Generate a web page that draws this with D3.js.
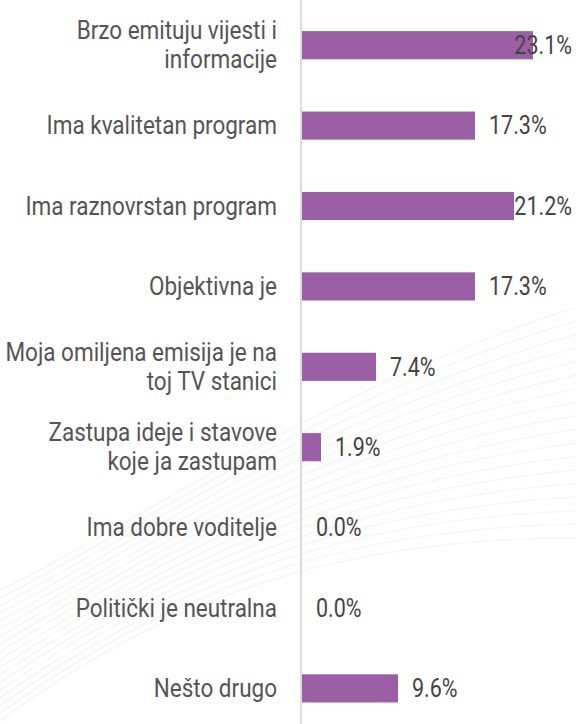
<!DOCTYPE html>
<html>
<head>
<meta charset="utf-8">
<script src="https://cdn.jsdelivr.net/npm/d3@7"></script>
<style>
  body { margin: 0; background: #fff; }
  text { font-family: "Roboto", "Liberation Sans", sans-serif; }
</style>
</head>
<body>
<div id="chart"></div>
<script>
var width = 576, height = 724;

// categories (line breaks as in the original)
var categories = [
  ["Brzo emituju vijesti i", "informacije"],
  ["Ima kvalitetan program"],
  ["Ima raznovrstan program"],
  ["Objektivna je"],
  ["Moja omiljena emisija je na", "toj TV stanici"],
  ["Zastupa ideje i stavove", "koje ja zastupam"],
  ["Ima dobre voditelje"],
  ["Politički je neutralna"],
  ["Nešto drugo"]
];
var values = [23.1, 17.3, 21.2, 17.3, 7.4, 1.9, 0.0, 0.0, 9.6];

var data = categories.map(function(c, i) {
  return { key: c.join(" "), lines: c, value: values[i] };
});

var svg = d3.select("#chart")
  .append("svg")
    .attr("width", width)
    .attr("height", height);

// very faint background swooshes
var bg = svg.append("g").attr("fill", "none");
for (var k = 0; k < 18; k++) {
  bg.append("path")
    .attr("d", "M-20," + (600 + k * 8) +
               " C150," + (520 + k * 5) + " 330," + (380 + k * 9) + " 600," + (300 + k * 14))
    .attr("stroke", "#f6f6f6")
    .attr("stroke-width", 1.5);
}

var x = d3.scaleLinear()
  .domain([0, 27])
  .range([302, 572]);

var y = d3.scaleBand()
  .domain(data.map(function(d) { return d.key; }))
  .range([5, 728.6])
  .paddingInner(0.65)
  .paddingOuter(0.325);

// axis line
svg.append("line")
  .attr("x1", 301).attr("x2", 301)
  .attr("y1", 0).attr("y2", height)
  .attr("stroke", "#dcdcdc")
  .attr("stroke-width", 2);

// bars
svg.selectAll("rect.bar")
  .data(data)
  .enter()
  .append("rect")
    .attr("class", "bar")
    .attr("x", x(0))
    .attr("y", function(d) { return y(d.key); })
    .attr("width", function(d) { return x(d.value) - x(0); })
    .attr("height", y.bandwidth())
    .attr("fill", "#9b5fa5");

// category labels (narrowed to mimic the condensed face)
var lineH = 29, catScale = 0.9, valScale = 0.86;
var labels = svg.selectAll("text.cat")
  .data(data)
  .enter()
  .append("text")
    .attr("class", "cat")
    .attr("text-anchor", "end")
    .attr("font-size", 25)
    .attr("fill", "#555")
    .attr("transform", function(d) {
      var cy = y(d.key) + y.bandwidth() / 2;
      return "translate(277," + (cy - (d.lines.length - 1) * lineH / 2) + ") scale(" + catScale + ",1)";
    });

labels.selectAll("tspan")
  .data(function(d) { return d.lines; })
  .enter()
  .append("tspan")
    .attr("x", 0)
    .attr("dy", function(d, i) { return i === 0 ? "0.35em" : lineH; })
    .text(function(d) { return d; });

// value labels, kept inside the right edge
svg.selectAll("text.val")
  .data(data)
  .enter()
  .append("text")
    .attr("class", "val")
    .attr("font-size", 25)
    .attr("fill", "#444")
    .attr("dy", "0.35em")
    .text(function(d) { return d.value.toFixed(1) + "%"; })
    .attr("transform", function(d) {
      var w = this.getComputedTextLength() * valScale;
      var tx = Math.min(x(d.value) + 14, 572 - w);
      return "translate(" + tx + "," + (y(d.key) + y.bandwidth() / 2) + ") scale(" + valScale + ",1)";
    });
</script>
</body>
</html>
